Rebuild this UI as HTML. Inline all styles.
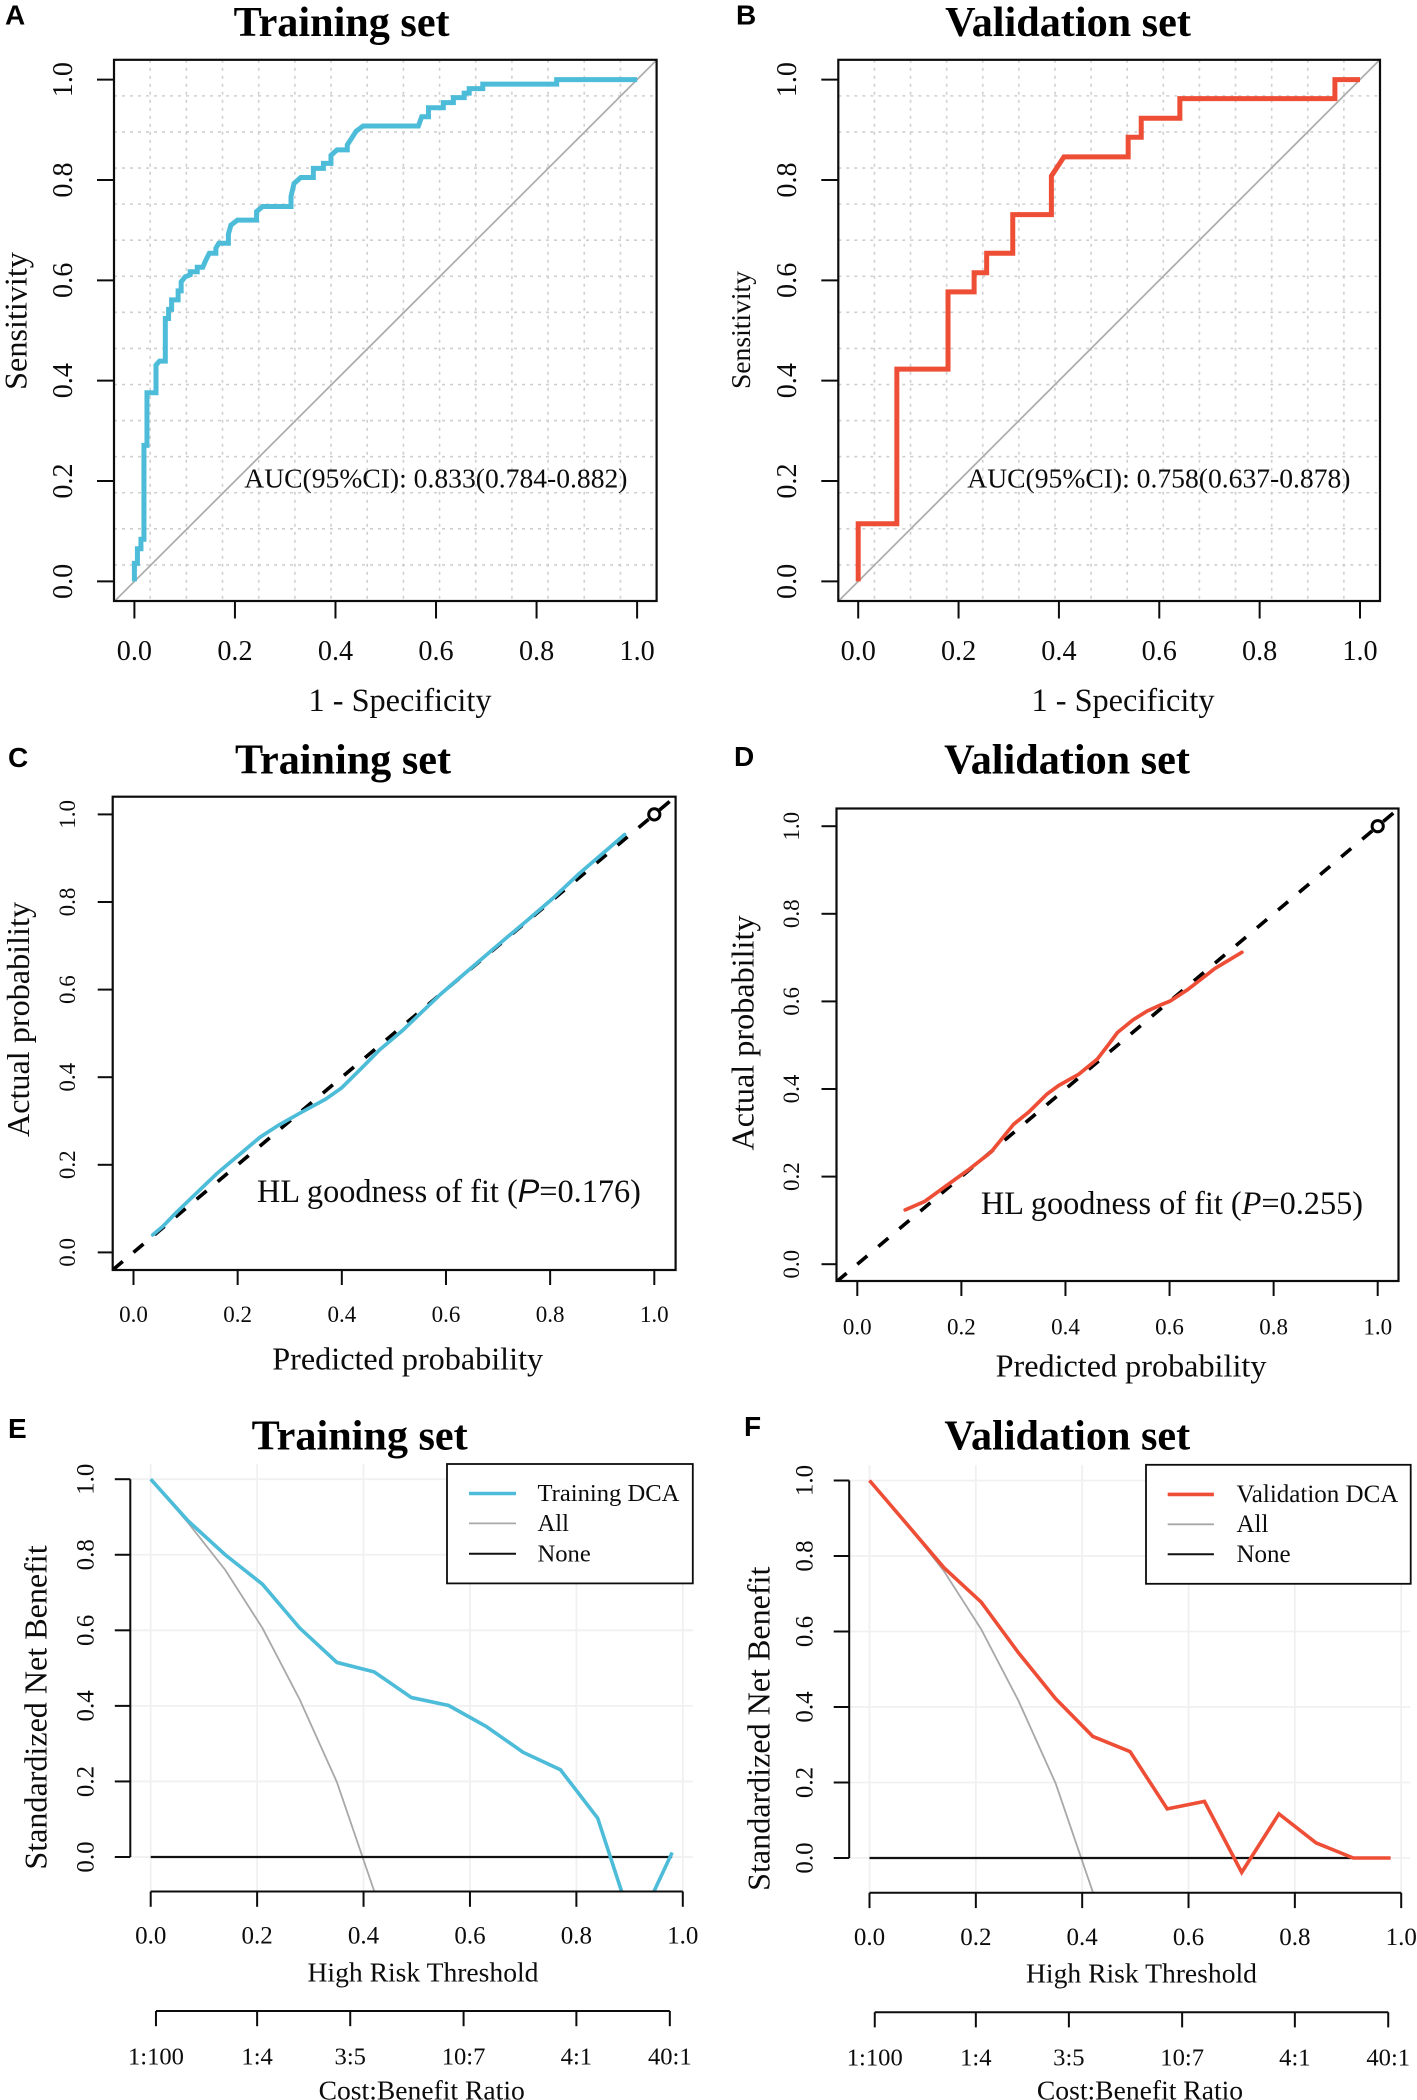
<!DOCTYPE html>
<html lang="en">
<head>
<meta charset="utf-8">
<title>ROC, calibration and DCA curves</title>
<style>
html,body{margin:0;padding:0;background:#fff;}
svg{display:block;}
text{font-family:"Liberation Serif",serif;fill:#0c0c0c;}
.letter{font-family:"Liberation Sans",sans-serif;font-weight:700;font-size:28px;fill:#000;}
.title{font-weight:700;font-size:42.2px;text-anchor:middle;dominant-baseline:central;fill:#000;}
.mid{text-anchor:middle;dominant-baseline:central;}
.start{dominant-baseline:central;}
</style>
</head>
<body>
<svg id="figure" xmlns="http://www.w3.org/2000/svg" width="1417" height="2100" viewBox="0 0 1417 2100">
<rect x="0" y="0" width="1417" height="2100" fill="#fff"/>
<defs>
<clipPath id="clip-a"><rect x="114" y="59.8" width="542.6" height="541.2"/></clipPath>
<clipPath id="clip-b"><rect x="838.3" y="59.8" width="541.7" height="541.2"/></clipPath>
<clipPath id="clip-c"><rect x="112.7" y="796.7" width="562.9" height="473.3"/></clipPath>
<clipPath id="clip-d"><rect x="836.5" y="808.5" width="562" height="472.5"/></clipPath>
<clipPath id="clip-e"><rect x="100" y="1440" width="610" height="451.5"/></clipPath>
<clipPath id="clip-f"><rect x="820" y="1440" width="597" height="452.8"/></clipPath>
</defs>

<g id="panel-a">
<text class="letter" x="5" y="24.5">A</text>
<text class="title" x="341.6" y="22.5">Training set</text>
<text class="mid" x="15.5" y="321" font-size="32.2" transform="rotate(-90 15.5 321)">Sensitivity</text>
<text class="mid" x="400" y="700" font-size="32.3">1 - Specificity</text>
</g>

<g id="panel-b">
<text class="letter" x="736" y="24.5">B</text>
<text class="title" x="1068" y="22.5">Validation set</text>
<text class="mid" x="740.6" y="330" font-size="27.6" transform="rotate(-90 740.6 330)">Sensitivity</text>
<text class="mid" x="1123" y="700" font-size="32.3">1 - Specificity</text>
</g>

<g id="panel-c">
<text class="letter" x="8" y="767">C</text>
<text class="title" x="343" y="760">Training set</text>
<text class="mid" x="18" y="1019.5" font-size="32.2" transform="rotate(-90 18 1019.5)">Actual probability</text>
<text class="mid" x="407.7" y="1358.5" font-size="32.2">Predicted probability</text>
</g>

<g id="panel-d">
<text class="letter" x="734" y="766">D</text>
<text class="title" x="1067" y="760">Validation set</text>
<text class="mid" x="742.4" y="1033" font-size="32.2" transform="rotate(-90 742.4 1033)">Actual probability</text>
<text class="mid" x="1131" y="1365.7" font-size="32.2">Predicted probability</text>
</g>

<g id="panel-e">
<text class="letter" x="8" y="1438">E</text>
<text class="title" x="359.7" y="1436.2">Training set</text>
<text class="mid" x="35.3" y="1707.5" font-size="32.1" transform="rotate(-90 35.3 1707.5)">Standardized Net Benefit</text>
<text class="mid" x="423" y="1971.8" font-size="27.6">High Risk Threshold</text>
<text class="mid" x="421.7" y="2090" font-size="27.6">Cost:Benefit Ratio</text>
</g>

<g id="panel-f">
<text class="letter" x="744" y="1436">F</text>
<text class="title" x="1067.3" y="1436.2">Validation set</text>
<text class="mid" x="758.7" y="1728.7" font-size="32.1" transform="rotate(-90 758.7 1728.7)">Standardized Net Benefit</text>
<text class="mid" x="1141.5" y="1973" font-size="27.6">High Risk Threshold</text>
<text class="mid" x="1140" y="2090" font-size="27.6">Cost:Benefit Ratio</text>
</g>

<g id="overlay"></g>
</svg>

<script>
// ---- Chart data ----
const probTicks = [0, 0.2, 0.4, 0.6, 0.8, 1];
const probTickLabels = ['0.0', '0.2', '0.4', '0.6', '0.8', '1.0'];
const benefitTicks = [0, 0.2, 0.4, 0.6, 0.8, 1];
const benefitTickLabels = ['0.0', '0.2', '0.4', '0.6', '0.8', '1.0'];
const costBenefitTicks = [0.0099, 0.2, 0.375, 0.588, 0.8, 0.9756];
const costBenefitLabels = ['1:100', '1:4', '3:5', '10:7', '4:1', '40:1'];

const rocTrainFpr = [0,0,.006,.006,.013,.013,.019,.019,.025,.025,.043,.043,.05,.0615,.0615,.068,.068,.074,.074,.087,.087,.093,.093,.101,.111,.111,.125,.125,.136,.142,.149,.162,.162,.168,.187,.187,.192,.205,.243,.243,.255,.3115,.3115,.3175,.331,.356,.356,.376,.376,.391,.391,.403,.4235,.4235,.432,.441,.455,.565,.5715,.585,.585,.6145,.6145,.6345,.6345,.656,.656,.666,.666,.693,.693,.84,.84,1];
const rocTrainTpr = [0,.036,.036,.065,.065,.084,.084,.271,.271,.376,.376,.431,.439,.439,.524,.524,.542,.542,.561,.561,.579,.579,.597,.607,.611,.617,.617,.626,.626,.64,.654,.654,.664,.674,.674,.692,.71,.72,.72,.737,.747,.747,.767,.793,.805,.805,.823,.823,.833,.833,.849,.86,.86,.87,.883,.897,.9075,.9075,.926,.926,.944,.944,.954,.954,.964,.964,.973,.973,.982,.982,.991,.991,1,1];
const rocValFpr = [0,0,.077,.077,.179,.179,.231,.231,.256,.256,.308,.308,.385,.385,.41,.538,.538,.564,.564,.641,.641,.95,.95,1];
const rocValTpr = [0,.115,.115,.423,.423,.577,.577,.615,.615,.654,.654,.731,.731,.808,.846,.846,.885,.885,.923,.923,.962,.962,1,1];

const calTrainPredicted = [.037,.056,.083,.117,.161,.204,.243,.278,.321,.369,.4,.439,.473,.517,.552,.591,.647,.699,.752,.804,.856,.908,.943];
const calTrainActual = [.04,.059,.092,.131,.181,.224,.263,.29,.319,.35,.376,.422,.463,.507,.547,.591,.648,.701,.754,.807,.865,.918,.954];
const calValPredicted = [.092,.129,.165,.213,.257,.3,.33,.365,.387,.426,.461,.483,.5,.53,.557,.583,.6,.635,.687,.739];
const calValActual = [.124,.143,.174,.215,.256,.319,.348,.389,.408,.434,.468,.502,.529,.558,.578,.592,.6,.627,.675,.712];

const dcaThresholds = [0,.07,.14,.21,.28,.35,.42,.49,.56,.63,.7,.77,.84,.91,.98];
const dcaTrainBenefit = [1,.89,.8,.722,.606,.515,.49,.422,.401,.346,.277,.231,.103,-.199,.012];
const dcaValBenefit = [1,.885,.769,.678,.544,.422,.322,.282,.13,.15,-.038,.117,.04,0,0];
const dcaAllThresholds = [0,.07,.14,.21,.28,.35,.42];
const dcaAllBenefit = [1,.885,.76,.606,.417,.198,-.09];
const dcaNoneThresholds = [0,.98];
const dcaNoneBenefit = [0,0];

// ---- Drawing helpers ----
const NS = 'http://www.w3.org/2000/svg';
const CYAN = '#4dbcd9';
const RED = '#ee4e36';
const INK = '#0c0c0c';

function mk(tag, attrs, parent, txt) {
  const n = document.createElementNS(NS, tag);
  for (const k in attrs) n.setAttribute(k, attrs[k]);
  if (txt !== undefined) n.textContent = txt;
  parent.appendChild(n);
  return n;
}
function linear(v0, p0, v1, p1) {
  return function (v) { return p0 + (v - v0) * (p1 - p0) / (v1 - v0); };
}
function pointsOf(xs, ys, sx, sy) {
  return xs.map(function (x, i) { return sx(x).toFixed(2) + ',' + sy(ys[i]).toFixed(2); }).join(' ');
}

function drawBox(g, B) {
  const el = mk('rect', {x: B.l, y: B.t, width: B.r - B.l, height: B.b - B.t, fill: 'none', stroke: INK, 'stroke-width': 2.2}, g);
  
  
}

function drawXAxis(g, ticks, labels, sx, yAxis, tickLen, labelY, fs) {
  ticks.forEach(function (t, i) {
    const tick = mk('line', {x1: sx(t), x2: sx(t), y1: yAxis, y2: yAxis + tickLen, stroke: INK, 'stroke-width': 2}, g);
    
    
    const lab = mk('text', {x: sx(t), y: labelY, 'font-size': fs, class: 'mid'}, g, labels[i]);
    
    
  });
}

function drawYAxis(g, ticks, labels, sy, xAxis, tickLen, labelX, fs) {
  ticks.forEach(function (t, i) {
    const tick = mk('line', {x1: xAxis - tickLen, x2: xAxis, y1: sy(t), y2: sy(t), stroke: INK, 'stroke-width': 2}, g);
    
    
    const lab = mk('text', {x: labelX, y: sy(t), 'font-size': fs, class: 'mid', transform: 'rotate(-90 ' + labelX + ' ' + sy(t) + ')'}, g, labels[i]);
    
    
  });
}

function drawRoc(panelId, clipId, B, P, fpr, tpr, color, aucText, aucX) {
  const g = document.getElementById(panelId);
  const sx = linear(0, P.x0, 1, P.x1);
  const sy = linear(0, P.y0, 1, P.y1);
  for (let i = 1; i < 15; i++) {
    const gx = B.l + (B.r - B.l) * i / 15;
    const gy = B.t + (B.b - B.t) * i / 15;
    const vLine = mk('line', {x1: gx, x2: gx, y1: B.t, y2: B.b, stroke: '#cfcfcf', 'stroke-width': 1.6, 'stroke-dasharray': '3 5'}, g);
    
    
    const hLine = mk('line', {x1: B.l, x2: B.r, y1: gy, y2: gy, stroke: '#cfcfcf', 'stroke-width': 1.6, 'stroke-dasharray': '3 5'}, g);
    
    
  }
  const diag = mk('line', {x1: sx(-0.1), y1: sy(-0.1), x2: sx(1.1), y2: sy(1.1), stroke: '#ababab', 'stroke-width': 1.7, 'clip-path': 'url(#' + clipId + ')'}, g);
  
  
  const curve = mk('polyline', {points: pointsOf(fpr, tpr, sx, sy), fill: 'none', stroke: color, 'stroke-width': P.lw, 'stroke-linejoin': 'miter', 'stroke-linecap': 'butt'}, g);
  
  
  drawBox(g, B);
  drawXAxis(g, probTicks, probTickLabels, sx, B.b, 17.5, 651.5, 28.2);
  drawYAxis(g, probTicks, probTickLabels, sy, B.l, 17, P.ly, 28.2);
  const note = mk('text', {x: aucX, y: 478, 'font-size': 27.6, class: 'start'}, g, aucText);
  
  
}

function drawCalibration(panelId, clipId, B, P, pred, act, color) {
  const g = document.getElementById(panelId);
  const sx = linear(0, P.x0, 1, P.x1);
  const sy = linear(0, P.y0, 1, P.y1);
  const ideal = mk('line', {x1: sx(0), y1: sy(0), x2: sx(1.1), y2: sy(1.1), stroke: '#000', 'stroke-width': 3.6, 'stroke-dasharray': '13 14.5', 'clip-path': 'url(#' + clipId + ')'}, g);
  
  
  const idealLow = mk('line', {x1: sx(0), y1: sy(0), x2: sx(-0.1), y2: sy(-0.1), stroke: '#000', 'stroke-width': 3.6, 'stroke-dasharray': '0 14 13 14', 'clip-path': 'url(#' + clipId + ')'}, g);
  
  
  const curve = mk('polyline', {points: pointsOf(pred, act, sx, sy), fill: 'none', stroke: color, 'stroke-width': 3.7, 'stroke-linejoin': 'round', 'stroke-linecap': 'round'}, g);
  
  
  const dot = mk('circle', {cx: sx(1), cy: sy(1), r: 5.6, fill: '#fff', stroke: '#000', 'stroke-width': 3}, g);
  
  
  drawBox(g, B);
  drawXAxis(g, probTicks, probTickLabels, sx, B.b, 15, P.lb, 23);
  drawYAxis(g, probTicks, probTickLabels, sy, B.l, 15, P.ly, 23);
}

function drawDca(panelId, clipId, P, benefit, color) {
  const g = document.getElementById(panelId);
  const sx = linear(0, P.x0, 1, P.x1);
  const sy = linear(0, P.y0, 1, P.y1);
  benefitTicks.forEach(function (t) {
    const hLine = mk('line', {x1: P.ax, x2: P.gr, y1: sy(t), y2: sy(t), stroke: '#f0f0f0', 'stroke-width': 1.8}, g);
    
    
  });
  probTicks.forEach(function (t) {
    const vLine = mk('line', {x1: sx(t), x2: sx(t), y1: P.gt, y2: P.ay, stroke: '#f0f0f0', 'stroke-width': 1.8}, g);
    
    
  });
  const allLine = mk('polyline', {points: pointsOf(dcaAllThresholds, dcaAllBenefit, sx, sy), fill: 'none', stroke: '#a8a8a8', 'stroke-width': 1.8, 'clip-path': 'url(#' + clipId + ')'}, g);
  
  
  const noneLine = mk('polyline', {points: pointsOf(dcaNoneThresholds, dcaNoneBenefit, sx, sy), fill: 'none', stroke: '#111', 'stroke-width': 2.2}, g);
  
  
  const curve = mk('polyline', {points: pointsOf(dcaThresholds, benefit, sx, sy), fill: 'none', stroke: color, 'stroke-width': 3.6, 'stroke-linejoin': 'miter', 'clip-path': 'url(#' + clipId + ')'}, g);
  
  

  const yLine = mk('line', {x1: P.ax, x2: P.ax, y1: sy(1), y2: sy(0), stroke: INK, 'stroke-width': 2}, g);
  
  
  drawYAxis(g, benefitTicks, benefitTickLabels, sy, P.ax, 15.5, P.ly, 25);

  const xLine = mk('line', {x1: sx(0), x2: sx(1), y1: P.ay, y2: P.ay, stroke: INK, 'stroke-width': 2}, g);
  
  
  drawXAxis(g, probTicks, probTickLabels, sx, P.ay, 15.3, P.lb, 25);

  const ratioLine = mk('line', {x1: sx(costBenefitTicks[0]), x2: sx(costBenefitTicks[costBenefitTicks.length - 1]), y1: P.ry, y2: P.ry, stroke: INK, 'stroke-width': 2}, g);
  
  
  costBenefitTicks.forEach(function (t, i) {
    const tick = mk('line', {x1: sx(t), x2: sx(t), y1: P.ry, y2: P.ry + 15.2, stroke: INK, 'stroke-width': 2}, g);
    
    
    const lab = mk('text', {x: sx(t), y: P.rl, 'font-size': 24.6, class: 'mid'}, g, costBenefitLabels[i]);
    
    
  });
}

function drawLegend(panelId, L, color, label) {
  const g = document.getElementById(panelId);
  const frame = mk('rect', {x: L.l, y: L.t, width: L.r - L.l, height: L.b - L.t, fill: '#fff', stroke: INK, 'stroke-width': 1.8}, g);
  
  
  const s1 = mk('line', {x1: L.s0, x2: L.s1, y1: L.y[0], y2: L.y[0], stroke: color, 'stroke-width': 3.6}, g);
  
  
  const s2 = mk('line', {x1: L.s0, x2: L.s1, y1: L.y[1], y2: L.y[1], stroke: '#a8a8a8', 'stroke-width': 1.8}, g);
  
  
  const s3 = mk('line', {x1: L.s0, x2: L.s1, y1: L.y[2], y2: L.y[2], stroke: '#111', 'stroke-width': 2}, g);
  
  
  const t1 = mk('text', {x: L.tx, y: L.y[0], 'font-size': L.fs, class: 'start'}, g, label);
  
  
  const t2 = mk('text', {x: L.tx, y: L.y[1], 'font-size': L.fs, class: 'start'}, g, 'All');
  
  
  const t3 = mk('text', {x: L.tx, y: L.y[2], 'font-size': L.fs, class: 'start'}, g, 'None');
  
  
}

function drawHl(panelId, x, y, prefix, value, italicFamily) {
  const g = document.getElementById(panelId);
  const t = mk('text', {x: x, y: y, 'font-size': 32.3, class: 'start'}, g);
  
  
  mk('tspan', {}, t, prefix);
  mk('tspan', {'font-style': 'italic', 'font-family': italicFamily}, t, 'P');
  mk('tspan', {}, t, value);
}

// ---- Panels ----
drawRoc('panel-a', 'clip-a', {l: 114, r: 656.6, t: 59.8, b: 601}, {x0: 134.4, x1: 637.1, y0: 581.4, y1: 79.6, lw: 5, ly: 63.5}, rocTrainFpr, rocTrainTpr, CYAN, 'AUC(95%CI): 0.833(0.784-0.882)', 244.3);
drawRoc('panel-b', 'clip-b', {l: 838.3, r: 1380, t: 59.8, b: 601}, {x0: 858.2, x1: 1360, y0: 581.4, y1: 79.6, lw: 5, ly: 787.4}, rocValFpr, rocValTpr, RED, 'AUC(95%CI): 0.758(0.637-0.878)', 967.3);
drawCalibration('panel-c', 'clip-c', {l: 112.7, r: 675.6, t: 796.7, b: 1270}, {x0: 133.5, x1: 654.3, y0: 1252.4, y1: 814.4, lb: 1314.5, ly: 67.5}, calTrainPredicted, calTrainActual, CYAN);
drawCalibration('panel-d', 'clip-d', {l: 836.5, r: 1398.5, t: 808.5, b: 1281}, {x0: 857.3, x1: 1377.7, y0: 1264.2, y1: 826.2, lb: 1327, ly: 791.5}, calValPredicted, calValActual, RED);
drawHl('panel-c', 257, 1191, 'HL goodness of fit (', '=0.176)', '"Liberation Sans", sans-serif');
drawHl('panel-d', 980.9, 1203, 'HL goodness of fit (', '=0.255)', '"Liberation Serif", serif');
drawDca('panel-e', 'clip-e', {x0: 150.7, x1: 682.8, y0: 1857, y1: 1479.2, ax: 130.3, ay: 1891.5, gr: 693, gt: 1464, ly: 86, lb: 1936.2, ry: 2011, rl: 2057}, dcaTrainBenefit, CYAN);
drawDca('panel-f', 'clip-f', {x0: 869.5, x1: 1401.2, y0: 1858, y1: 1480.5, ax: 849.2, ay: 1892.8, gr: 1410, gt: 1465, ly: 804.8, lb: 1937.5, ry: 2012.2, rl: 2058}, dcaValBenefit, RED);
drawLegend('panel-e', {l: 447, r: 692.8, t: 1464, b: 1583.4, s0: 469, s1: 516, tx: 537.5, fs: 24.6, y: [1493.5, 1523.4, 1553.8]}, CYAN, 'Training DCA');
drawLegend('panel-f', {l: 1146, r: 1410.7, t: 1464.8, b: 1583.8, s0: 1167.7, s1: 1213.9, tx: 1236.5, fs: 25, y: [1494.4, 1524.3, 1554.3]}, RED, 'Validation DCA');
</script>
</body>
</html>
